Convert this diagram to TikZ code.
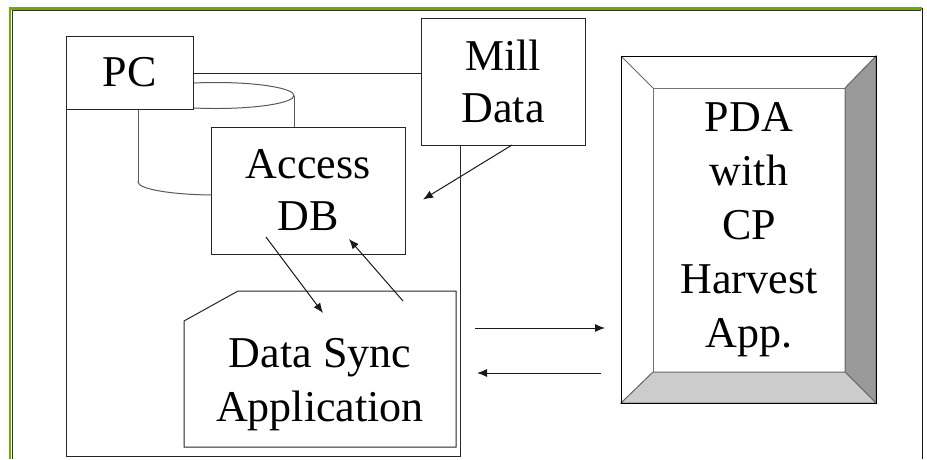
\documentclass[tikz,border=0pt]{standalone}
\usepackage{fontspec}
\setmainfont{Liberation Serif}
\usetikzlibrary{arrows.meta,calc}
\definecolor{framegreen}{RGB}{110,170,0}

\begin{document}
\begin{tikzpicture}[x=1pt,y=-1pt,
		box/.style={draw=black!85, fill=white, line width=1pt, inner sep=0pt, outer sep=0pt},
		lbl/.style={font=\fontsize{44}{52}\selectfont, align=center, inner sep=0pt},
		cyl/.style={draw=black!65, fill=white, line width=1pt},
		arr/.style={-{Latex[length=10pt,width=8pt]}, line width=1pt, black!90}]
		\useasboundingbox (0,0) rectangle (927,459);
		% slide frame
		\draw[framegreen, line width=2.5pt] (10,459) -- (10,8.5) -- (922,8.5);
		\draw[black!80, line width=1pt] (12.5,459) -- (12.5,10.5) -- (921,10.5);
		\draw[black!90, line width=1.2pt] (922.5,8) -- (922.5,459);
		
		\node[box, minimum width=394, minimum height=383] (pcframe) at (263,264.5) {};
		
		% database drum behind Access
		\filldraw[cyl] (216,182) ellipse[x radius=78, y radius=13];
		\fill[white] (138,95.5) rectangle (294,182);
		\draw[cyl] (138,95.5) -- (138,182) (294,95.5) -- (294,182);
		\filldraw[cyl] (216,95.5) ellipse[x radius=78, y radius=13];
		
		\node[box, lbl, minimum width=194, minimum height=127] (acc) at (308,190.5) {Access\\DB};
		
		\node[minimum width=272, minimum height=156, inner sep=0pt, outer sep=0pt] (sync) at (320,369) {};
		\filldraw[box] ($(sync.north west)+(0,30)$) -- ($(sync.north west)+(54,0)$) -- (sync.north east)
			-- (sync.south east) -- (sync.south west) -- cycle;
		\node[lbl, font=\fontsize{44}{54}\selectfont] (synctext) at (320,385) {Data Sync\\Application};
		
		\node[box, lbl, minimum width=127, minimum height=73] (pc) at (129.5,72.5) {PC};
		\node[box, lbl, minimum width=164, minimum height=127] (mill) at (503,81.5) {Mill\\Data};
		
		\draw[arr] ([xshift=9pt]mill.south) -- ([xshift=18pt,yshift=-9pt]acc.east);
		\draw[arr] ([xshift=-42pt,yshift=17pt]acc.south) -- ([xshift=3pt,yshift=-22pt]sync.north);
		\draw[arr] ([xshift=83pt,yshift=-10pt]sync.north) -- ([xshift=41pt,yshift=15pt]acc.south);
		
		% PDA with bevel
		\node[box, draw=black, minimum width=255, minimum height=347] (pda) at (748.5,229.5) {};
		\node[box, lbl, draw=black!55, font=\fontsize{44}{54}\selectfont, minimum width=192, minimum height=284] (pdain) at (749,230) {PDA\\with\\CP\\Harvest\\App.};
		\filldraw[fill=black!40, draw=black!60, line width=1pt] (pda.north east) -- (pda.south east) -- (pdain.south east) -- (pdain.north east) -- cycle;
		\filldraw[fill=black!20, draw=black!60, line width=1pt] (pda.south west) -- (pda.south east) -- (pdain.south east) -- (pdain.south west) -- cycle;
		\draw[black!60, line width=1pt] (pda.north west) -- (pdain.north west);
		\draw[black, line width=1pt] (pda.north west) rectangle (pda.south east);
		
		\draw[arr] ([xshift=19pt,yshift=41pt]sync.east) -- ([xshift=-16pt,yshift=-98.5pt]pda.west);
		\draw[arr] ([xshift=-20pt,yshift=-143.5pt]pda.west) -- ([xshift=21pt,yshift=-4pt]sync.east);
	\end{tikzpicture}
\end{document}
